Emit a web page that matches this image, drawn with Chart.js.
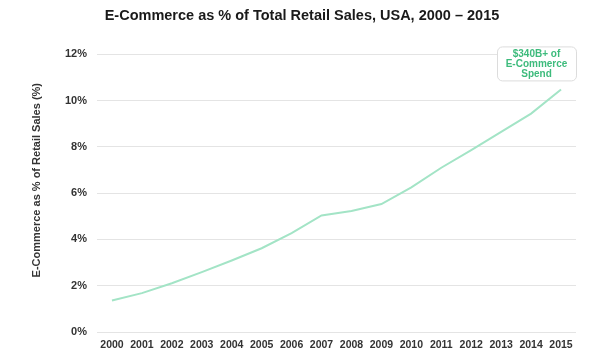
<!DOCTYPE html>
<html>
<head>
<meta charset="utf-8">
<script src="https://cdn.jsdelivr.net/npm/chart.js@4.4.0/dist/chart.umd.min.js"></script>
<style>
html,body{margin:0;padding:0;background:#fff;}
#wrap{width:600px;height:360px;position:relative;}
</style>
</head>
<body>
<div id="wrap"><canvas id="c" width="600" height="360"></canvas></div>
<script>
const years = ["2000","2001","2002","2003","2004","2005","2006","2007","2008","2009","2010","2011","2012","2013","2014","2015"];
const ecommerceShare = [1.36,1.68,2.11,2.59,3.09,3.62,4.27,5.04,5.23,5.53,6.25,7.10,7.86,8.65,9.44,10.48];
const yTicks = [0,2,4,6,8,10,12];
const titleText = "E-Commerce as % of Total Retail Sales, USA, 2000 \u2013 2015";
const yAxisTitle = "E-Commerce as % of Retail Sales (%)";
const calloutLines = ["$340B+ of","E-Commerce","Spend"];

const FONT = "'Liberation Sans', Arial, Helvetica, sans-serif";

const yTitlePlugin = {
  id: 'yTitle',
  afterDraw(chart) {
    const ctx = chart.ctx;
    const area = chart.chartArea;
    ctx.save();
    ctx.translate(37, (area.top + area.bottom) / 2 - 13);
    ctx.rotate(-Math.PI / 2);
    ctx.fillStyle = '#333333';
    ctx.font = 'bold 11px ' + FONT;
    ctx.textAlign = 'center';
    ctx.textBaseline = 'middle';
    ctx.fillText(yAxisTitle, 0, 0);
    ctx.restore();
  }
};

const callout = {
  id: 'callout',
  afterDatasetsDraw(chart) {
    const ctx = chart.ctx;
    const area = chart.chartArea;
    const y = chart.scales.y;
    const w = 79, h = 34;
    const x0 = area.right - w;
    const y0 = y.getPixelForValue(12) - 8;
    ctx.save();
    ctx.beginPath();
    ctx.roundRect(x0 + 0.5, y0 + 0.5, w, h, 5);
    ctx.fillStyle = '#ffffff';
    ctx.fill();
    ctx.strokeStyle = '#dcdcdc';
    ctx.lineWidth = 1;
    ctx.stroke();
    ctx.fillStyle = '#3dbb7c';
    ctx.font = 'bold 10px ' + FONT;
    ctx.textAlign = 'center';
    ctx.textBaseline = 'middle';
    calloutLines.forEach((t, i) => {
      ctx.fillText(t, x0 + w / 2, y0 + 7.5 + i * 10.3);
    });
    ctx.restore();
  }
};

new Chart(document.getElementById('c'), {
  type: 'line',
  data: {
    labels: years,
    datasets: [{
      data: ecommerceShare,
      borderColor: '#a3e4c6',
      borderWidth: 2,
      pointRadius: 0,
      tension: 0,
      fill: false
    }]
  },
  options: {
    responsive: false,
    animation: false,
    devicePixelRatio: 1,
    layout: { padding: { left: 28, right: 24, top: 0, bottom: 0 } },
    plugins: {
      legend: { display: false },
      tooltip: { enabled: false },
      title: {
        display: true,
        text: titleText,
        color: '#1a1a1a',
        font: { family: FONT, size: 14.5, weight: 'bold' },
        padding: { top: 7, bottom: 30 }
      }
    },
    scales: {
      x: {
        offset: true,
        grid: { display: false, drawTicks: false },
        border: { display: false },
        ticks: {
          color: '#333333',
          font: { family: FONT, size: 10.5, weight: 'bold' },
          maxRotation: 0,
          autoSkip: false,
          padding: 7
        },
        afterFit(scale) { scale.height = 28; }
      },
      y: {
        min: 0,
        max: 12,
        afterBuildTicks(scale) { scale.ticks = yTicks.map(v => ({ value: v })); },
        grid: { color: '#e4e4e4', lineWidth: 1, drawTicks: false },
        border: { display: false },
        ticks: {
          color: '#333333',
          font: { family: FONT, size: 11, weight: 'bold' },
          padding: 10,
          callback: v => v + '%'
        },
        title: { display: false },
        afterFit(scale) { scale.width = 69; }
      }
    }
  },
  plugins: [callout, yTitlePlugin]
});
</script>
</body>
</html>
